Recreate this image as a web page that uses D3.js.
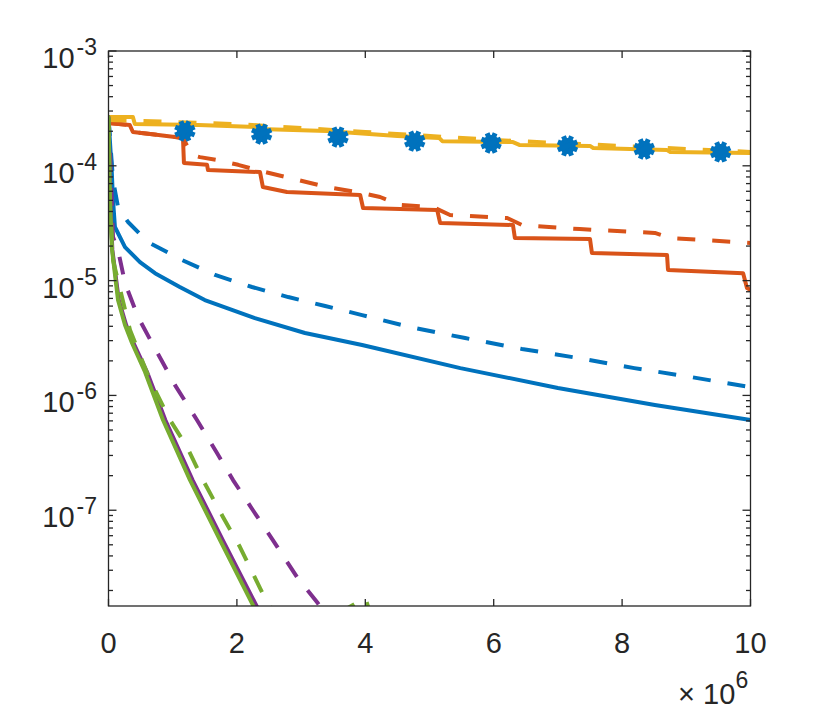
<!DOCTYPE html>
<html><head><meta charset="utf-8">
<script src="https://cdn.jsdelivr.net/npm/d3@7"></script>
<style>body{margin:0;background:#fff}</style>
</head><body><svg id="c" width="830" height="711"></svg>
<script>
// ---- data (x = iterations, y = value) ----
const blueSolidX = [0, 5e4, 7e4, 1e5, 2.57e5, 4.9e5, 7.24e5, 1.11e6, 1.5e6, 2.28e6, 3.06e6, 3.95e6, 5.48e6, 7.0e6, 8.51e6, 1e7];
const blueSolidY = [2.61e-4, 9.18e-5, 5.04e-5, 2.93e-5, 1.96e-5, 1.45e-5, 1.16e-5, 8.8e-6, 6.77e-6, 4.72e-6, 3.5e-6, 2.75e-6, 1.73e-6, 1.16e-6, 8.24e-7, 6.1e-7];

const blueDashX = [0, 7e4, 1.48e5, 3.04e5, 6.15e5, 1.145e6, 1.66e6, 2.235e6, 2.8e6, 3.375e6, 3.95e6, 4.7e6, 5.555e6, 6.44e6, 7.31e6, 8.19e6, 9.06e6, 1e7];
const blueDashY = [2.61e-4, 7.52e-5, 4.38e-5, 3.24e-5, 2.17e-5, 1.51e-5, 1.12e-5, 8.8e-6, 7.19e-6, 6.01e-6, 5.01e-6, 3.94e-6, 3.16e-6, 2.54e-6, 2.12e-6, 1.73e-6, 1.45e-6, 1.18e-6];

const orangeSolidX = [0, 3.3e5, 3.8e5, 6.5e5, 1.16e6, 1.175e6, 1.535e6, 1.55e6, 2.36e6, 2.405e6, 2.78e6, 3.92e6, 3.965e6, 5.12e6, 5.165e6, 6.3e6, 6.33e6, 7.5e6, 7.53e6, 8.7e6, 8.715e6, 9.885e6, 9.945e6, 1e7];
const orangeSolidY = [2.36e-4, 2.27e-4, 1.97e-4, 1.89e-4, 1.75e-4, 1.06e-4, 1.02e-4, 9.18e-5, 8.82e-5, 6.53e-5, 5.91e-5, 5.57e-5, 4.29e-5, 4.12e-5, 3.18e-5, 3.05e-5, 2.35e-5, 2.3e-5, 1.74e-5, 1.67e-5, 1.24e-5, 1.16e-5, 8.63e-6, 8.28e-6];

const orangeDashX = [0, 3.3e5, 3.8e5, 6.5e5, 1.16e6, 1.3e6, 1.425e6, 1.705e6, 2.02e6, 2.31e6, 2.83e6, 3.4e6, 3.87e6, 4.23e6, 4.54e6, 5.05e6, 5.32e6, 6.21e6, 6.44e6, 7.34e6, 8.51e6, 8.75e6, 1e7];
const orangeDashY = [2.36e-4, 2.27e-4, 1.97e-4, 1.89e-4, 1.75e-4, 1.24e-4, 1.19e-4, 1.12e-4, 1.02e-4, 9.18e-5, 7.83e-5, 6.53e-5, 5.91e-5, 5.35e-5, 4.56e-5, 4.38e-5, 3.73e-5, 3.51e-5, 3.05e-5, 2.81e-5, 2.6e-5, 2.35e-5, 2.13e-5];

const yellowSolidX = [0, 3.8e5, 4.1e5, 1.4e6, 2.3e6, 2.35e6, 3.4e6, 4.5e6, 5.15e6, 5.2e6, 6.3e6, 6.4e6, 7.5e6, 7.55e6, 8.7e6, 8.75e6, 1e7];
const yellowSolidY = [2.66e-4, 2.66e-4, 2.31e-4, 2.27e-4, 2.18e-4, 2.09e-4, 2.01e-4, 1.82e-4, 1.75e-4, 1.64e-4, 1.61e-4, 1.52e-4, 1.49e-4, 1.43e-4, 1.37e-4, 1.32e-4, 1.29e-4];

const yellowDashX = [0, 5e5, 2e6, 4e6, 6e6, 8e6, 1e7];
const yellowDashY = [2.51e-4, 2.46e-4, 2.31e-4, 1.97e-4, 1.68e-4, 1.49e-4, 1.32e-4];

const markerX = [1.19e6, 2.385e6, 3.575e6, 4.77e6, 5.96e6, 7.15e6, 8.345e6, 9.535e6];
const markerY = [2.01e-4, 1.89e-4, 1.78e-4, 1.64e-4, 1.58e-4, 1.49e-4, 1.4e-4, 1.32e-4];

const purpleDashX = [0, 4e4, 7e4, 1.48e5, 2.57e5, 4.6e5, 6.78e5, 1.036e6, 1.378e6, 1.69e6, 1.94e6, 2.25e6, 2.56e6, 2.935e6, 3.25e6, 3.45e6];
const purpleDashY = [2.61e-4, 7.52e-5, 2.4e-5, 1.85e-5, 9.53e-6, 4.82e-6, 2.86e-6, 1.23e-6, 6.11e-7, 3.15e-7, 1.83e-7, 1.0e-7, 5.5e-8, 2.62e-8, 1.58e-8, 1.1e-8];

const purpleSolidX = [0, 2.8e4, 6e4, 1.6e5, 2.75e5, 3.9e5, 6.0e5, 8.85e5, 1.31e6, 1.78e6, 2.3e6, 2.38e6];
const purpleSolidY = [2.66e-4, 5.04e-5, 1.85e-5, 6.78e-6, 4.1e-6, 2.86e-6, 1.6e-6, 6.11e-7, 1.83e-7, 5.5e-8, 1.49e-8, 1.22e-8];

const greenSolidX = [0, 2.3e4, 5.5e4, 1.48e5, 2.57e5, 3.66e5, 5.69e5, 8.49e5, 1.27e6, 1.737e6, 2.25e6, 2.33e6];
const greenSolidY = [2.66e-4, 5.04e-5, 1.85e-5, 6.78e-6, 4.1e-6, 2.86e-6, 1.6e-6, 6.11e-7, 1.83e-7, 5.5e-8, 1.49e-8, 1.22e-8];

const greenDashX = [0, 2.3e4, 7e4, 3.35e5, 6.46e5, 9.58e5, 1.223e6, 1.472e6, 1.783e6, 2.048e6, 2.36e6, 2.485e6, 2.59e6, 3.0e6, 3.7e6, 4.0e6, 4.07e6, 1e7];
const greenDashY = [2.61e-4, 5.04e-5, 1.51e-5, 3.71e-6, 1.36e-6, 6.11e-7, 3.56e-7, 1.83e-7, 8.73e-8, 4.78e-8, 2.1e-8, 1.52e-8, 1.3e-8, 1.25e-8, 1.38e-8, 1.72e-8, 1.3e-8, 1.3e-8];

const xTicks = [0, 2e6, 4e6, 6e6, 8e6, 1e7];
const xTickLabels = ["0", "2", "4", "6", "8", "10"];
const yTicks = [1e-7, 1e-6, 1e-5, 1e-4, 1e-3];
const yTickExps = ["-7", "-6", "-5", "-4", "-3"];

// ---- layout ----
const L = 108.5, R = 750.5, T = 51, B = 606;
const x = d3.scaleLinear().domain([0, 1e7]).range([L, R]);
const y = d3.scaleLog().domain([1.465e-8, 1e-3]).range([B, T]);

const svg = d3.select("#c");
const FONT = "Arial, 'Liberation Sans', Helvetica, sans-serif";
const AX = "#262626";

svg.append("defs").append("clipPath").attr("id", "clip")
  .append("rect").attr("x", L).attr("y", T).attr("width", R - L).attr("height", B - T);

const plot = svg.append("g").attr("clip-path", "url(#clip)");
const line = d3.line().x(d => x(d[0])).y(d => y(d[1]));
const zip = (a, b) => a.map((v, i) => [v, b[i]]);

function draw(xs, ys, color, dashed) {
  return plot.append("path").datum(zip(xs, ys))
    .attr("d", line).attr("fill", "none")
    .attr("stroke", color).attr("stroke-width", 4)
    .attr("stroke-linejoin", "round")
    .attr("stroke-linecap", dashed ? "butt" : "round")
    .attr("stroke-dasharray", dashed ? "18,17" : null);
}

const C = {blue: "#0072BD", orange: "#D95319", yellow: "#EDB120", purple: "#7E2F8E", green: "#77AC30"};

draw(blueSolidX, blueSolidY, C.blue, false);
draw(blueDashX, blueDashY, C.blue, true);
draw(orangeSolidX, orangeSolidY, C.orange, false);
draw(orangeDashX, orangeDashY, C.orange, true);
draw(yellowSolidX, yellowSolidY, C.yellow, false);
draw(yellowDashX, yellowDashY, C.yellow, true);

// asterisk markers
const mg = plot.append("g");
zip(markerX, markerY).forEach(d => {
  const cx = x(d[0]), cy = y(d[1]);
  const g = mg.append("g").attr("transform", `translate(${cx},${cy})`);
  g.append("circle").attr("r", 8).attr("fill", C.blue);
  [0, 45, 90, 135].forEach(a => {
    g.append("line").attr("x1", -10.5).attr("x2", 10.5).attr("y1", 0).attr("y2", 0)
      .attr("transform", `rotate(${a + 22.5})`).attr("stroke", C.blue).attr("stroke-width", 5);
  });
});

draw(purpleSolidX, purpleSolidY, C.purple, false);
draw(purpleDashX, purpleDashY, C.purple, true);
draw(greenSolidX, greenSolidY, C.green, false);
draw(greenDashX, greenDashY, C.green, true);

// ---- axes ----
const ax = svg.append("g").attr("stroke", AX).attr("stroke-width", 1.3).attr("fill", "none");
ax.append("rect").attr("x", L).attr("y", T).attr("width", R - L).attr("height", B - T);

xTicks.forEach(t => {
  const px = x(t);
  ax.append("line").attr("x1", px).attr("x2", px).attr("y1", B).attr("y2", B - 7);
  ax.append("line").attr("x1", px).attr("x2", px).attr("y1", T).attr("y2", T + 7);
});
yTicks.forEach(t => {
  const py = y(t);
  ax.append("line").attr("x1", L).attr("x2", L + 8).attr("y1", py).attr("y2", py);
  ax.append("line").attr("x1", R).attr("x2", R - 8).attr("y1", py).attr("y2", py);
});
const [ymin, ymax] = y.domain();
for (let k = -9; k <= -4; k++) {
  for (let m = 2; m <= 9; m++) {
    const v = m * Math.pow(10, k);
    if (v < ymin || v > ymax) continue;
    const py = y(v);
    ax.append("line").attr("x1", L).attr("x2", L + 4.5).attr("y1", py).attr("y2", py);
    ax.append("line").attr("x1", R).attr("x2", R - 4.5).attr("y1", py).attr("y2", py);
  }
}

const txt = svg.append("g").attr("fill", AX).attr("font-family", FONT);
xTicks.forEach((t, i) => {
  txt.append("text").attr("x", x(t)).attr("y", 653).attr("text-anchor", "middle")
    .attr("font-size", 29).text(xTickLabels[i]);
});
yTicks.forEach((t, i) => {
  const tx = txt.append("text").attr("x", 97).attr("y", y(t) + 17).attr("text-anchor", "end").attr("font-size", 29);
  tx.append("tspan").text("10");
  tx.append("tspan").attr("dx", 2).attr("dy", -13).attr("font-size", 23).text(yTickExps[i]);
});
txt.append("text").attr("x", 686.5).attr("y", 704).attr("text-anchor", "middle").attr("font-size", 29).text("\u00d7");
txt.append("text").attr("x", 703).attr("y", 704).attr("font-size", 29).text("10");
txt.append("text").attr("x", 735.5).attr("y", 688).attr("font-size", 23).text("6");
</script>
</body></html>
